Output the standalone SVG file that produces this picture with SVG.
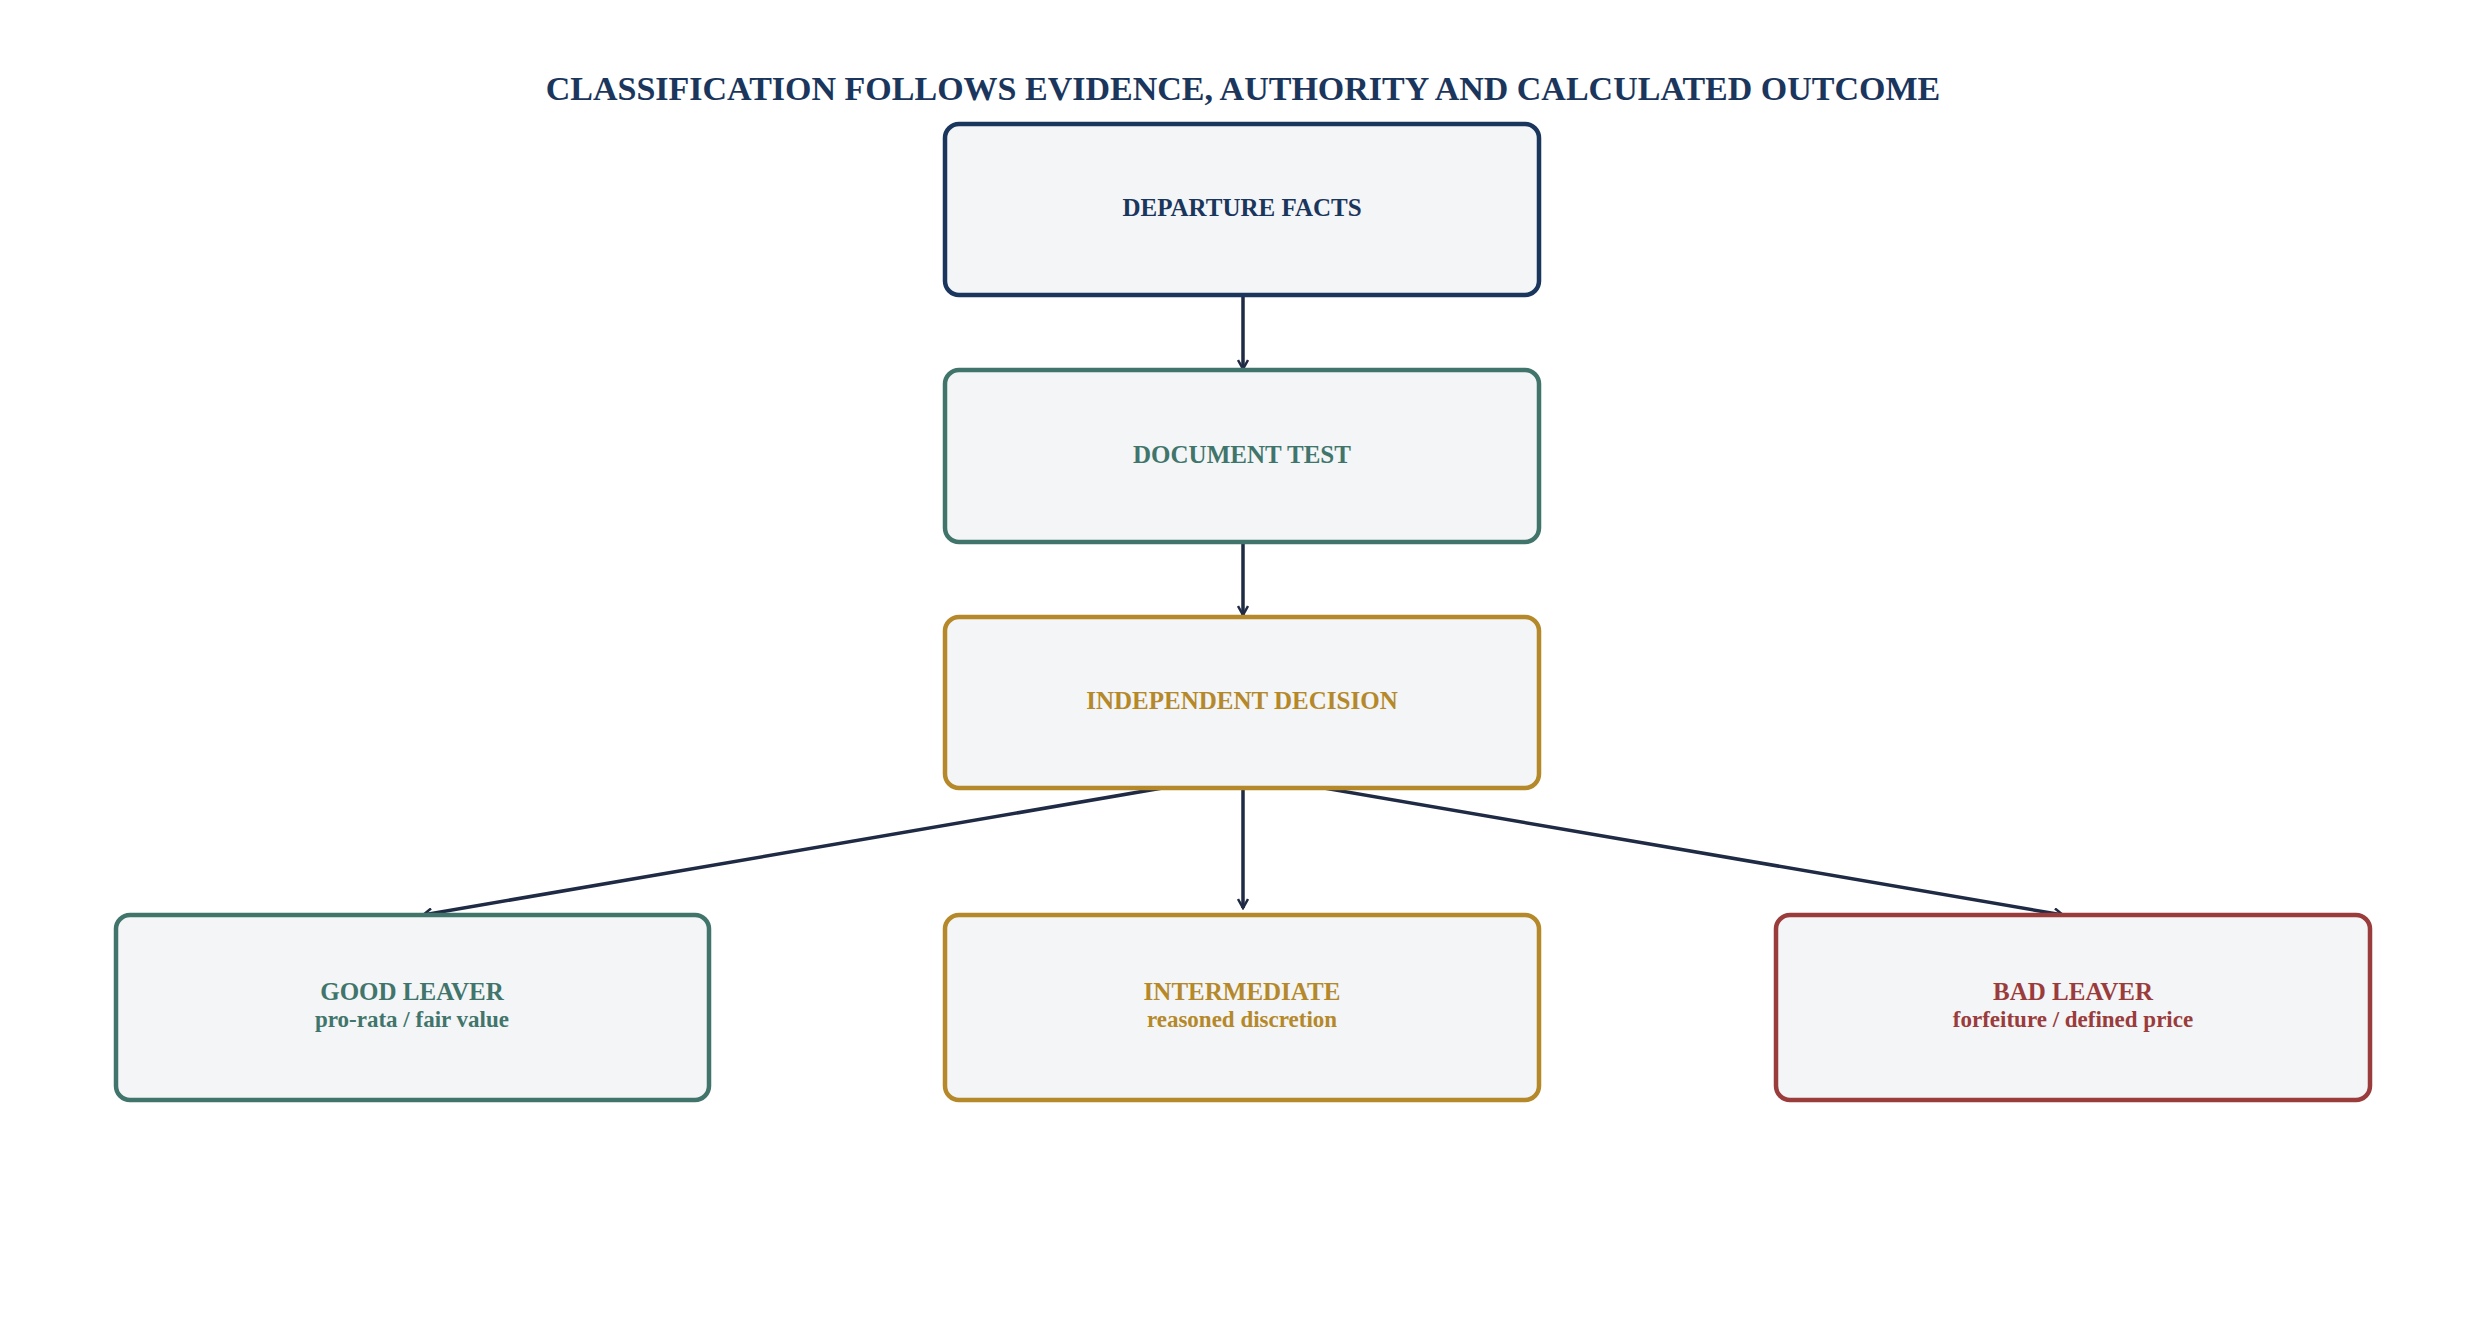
<svg xmlns="http://www.w3.org/2000/svg" width="2486" height="1342" viewBox="0 0 2486 1342">
<style>
text{font-family:"Liberation Serif","Times New Roman",serif;font-weight:bold;text-anchor:middle}
.box{fill:#f3f5f7;stroke-width:4.5}
.lbl{font-size:25px}
.sub{font-size:23px}
.edge{stroke:#1f2a44;stroke-width:3.5;fill:none;marker-end:url(#ah)}
</style>
<defs>
<marker id="ah" viewBox="0 0 12 12" refX="10" refY="6" markerWidth="12" markerHeight="12" markerUnits="userSpaceOnUse" orient="auto">
<path d="M1,1 L10,6 L1,11" fill="none" stroke="#1f2a44" stroke-width="2.5"/>
</marker>
</defs>
<rect width="2486" height="1342" fill="#fff"/>
<text x="1243" y="100" font-size="34" fill="#1b365d">CLASSIFICATION FOLLOWS EVIDENCE, AUTHORITY AND CALCULATED OUTCOME</text>
<g id="edges">
<path class="edge" d="M1243,293 L1243,369"/>
<path class="edge" d="M1243,540 L1243,615"/>
<path class="edge" d="M1238,775 L423,915"/>
<path class="edge" d="M1243,778 L1243,908"/>
<path class="edge" d="M1248,775 L2063,915"/>
</g>
<g id="n1"><rect class="box" x="945" y="124" width="594" height="171" rx="14" stroke="#1b365d"/><text class="lbl" x="1242" y="216" fill="#1b365d">DEPARTURE FACTS</text></g>
<g id="n2"><rect class="box" x="945" y="370" width="594" height="172" rx="14" stroke="#41756b"/><text class="lbl" x="1242" y="463" fill="#41756b">DOCUMENT TEST</text></g>
<g id="n3"><rect class="box" x="945" y="617" width="594" height="171" rx="14" stroke="#b5892a"/><text class="lbl" x="1242" y="709" fill="#b5892a">INDEPENDENT DECISION</text></g>
<g id="n4"><rect class="box" x="116" y="915" width="593" height="185" rx="14" stroke="#41756b"/><text class="lbl" x="412" y="1000" fill="#41756b">GOOD LEAVER</text><text class="sub" x="412" y="1027" fill="#41756b">pro-rata / fair value</text></g>
<g id="n5"><rect class="box" x="945" y="915" width="594" height="185" rx="14" stroke="#b5892a"/><text class="lbl" x="1242" y="1000" fill="#b5892a">INTERMEDIATE</text><text class="sub" x="1242" y="1027" fill="#b5892a">reasoned discretion</text></g>
<g id="n6"><rect class="box" x="1776" y="915" width="594" height="185" rx="14" stroke="#9b3c3c"/><text class="lbl" x="2073" y="1000" fill="#9b3c3c">BAD LEAVER</text><text class="sub" x="2073" y="1027" fill="#9b3c3c">forfeiture / defined price</text></g>
</svg>
